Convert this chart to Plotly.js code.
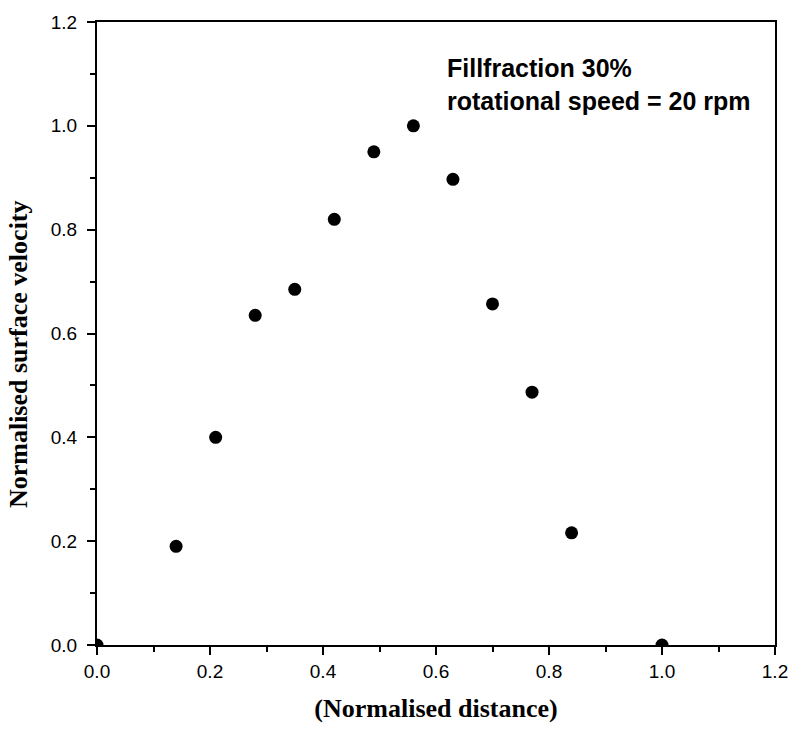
<!DOCTYPE html>
<html>
<head>
<meta charset="utf-8">
<script src="https://cdn.plot.ly/plotly-3.0.1.min.js"></script>
<style>html,body{margin:0;padding:0;background:#fff;}#chart{width:791px;height:729px;}</style>
</head>
<body>
<div id="chart"></div>
<script>
var distance = [0, 0.14, 0.21, 0.28, 0.35, 0.42, 0.49, 0.56, 0.63, 0.70, 0.77, 0.84, 1.0];
var velocity = [0, 0.19, 0.40, 0.635, 0.685, 0.82, 0.95, 1.0, 0.897, 0.657, 0.487, 0.216, 0];
var xTickVals = [0, 0.2, 0.4, 0.6, 0.8, 1.0, 1.2];
var xTickText = ['0.0', '0.2', '0.4', '0.6', '0.8', '1.0', '1.2'];
var yTickVals = [0, 0.2, 0.4, 0.6, 0.8, 1.0, 1.2];
var yTickText = ['0.0', '0.2', '0.4', '0.6', '0.8', '1.0', '1.2'];
var xTitle = '(Normalised distance)';
var yTitle = 'Normalised surface velocity';
var noteLines = ['Fillfraction 30%', 'rotational speed = 20 rpm'];

var trace = {
  x: distance, y: velocity, type: 'scatter', mode: 'markers',
  marker: {color: '#000', size: 13},
  cliponaxis: true, showlegend: false
};

var axisCommon = {
  showgrid: false, zeroline: false, showline: true, linecolor: '#000', linewidth: 2,
  mirror: true, ticks: 'outside', ticklen: 8, tickwidth: 2, tickcolor: '#000',
  tickmode: 'array',
  tickfont: {family: 'Arial, Liberation Sans, sans-serif', size: 19, color: '#000'},
  minor: {ticks: 'outside', ticklen: 5, tickwidth: 2, tickcolor: '#000', dtick: 0.1, showgrid: false}
};

var titleFont = {family: 'Times New Roman, Liberation Serif, serif', size: 26, color: '#000', weight: 'bold'};

var layout = {
  width: 791, height: 729,
  margin: {l: 97, r: 16, t: 22, b: 84},
  paper_bgcolor: '#fff', plot_bgcolor: '#fff',
  xaxis: Object.assign({}, axisCommon, {
    range: [0, 1.2], tickvals: xTickVals, ticktext: xTickText,
    title: {text: xTitle, standoff: 18, font: titleFont}
  }),
  yaxis: Object.assign({}, axisCommon, {
    range: [0, 1.2], tickvals: yTickVals, ticktext: yTickText, ticklabelstandoff: 6
  }),
  annotations: [{
    xref: 'x', yref: 'y', x: 0.616, y: 1.142, xanchor: 'left', yanchor: 'top',
    align: 'left', showarrow: false,
    text: '<b>' + noteLines.join('<br>') + '</b>',
    font: {family: 'Arial, Liberation Sans, sans-serif', size: 25, color: '#000'}
  }, {
    xref: 'paper', yref: 'paper', x: -0.1165, y: 0.467, xanchor: 'center', yanchor: 'middle',
    textangle: -90, showarrow: false, text: yTitle, font: titleFont
  }]
};

Plotly.newPlot('chart', [trace], layout, {displayModeBar: false, staticPlot: true});
</script>
</body>
</html>
